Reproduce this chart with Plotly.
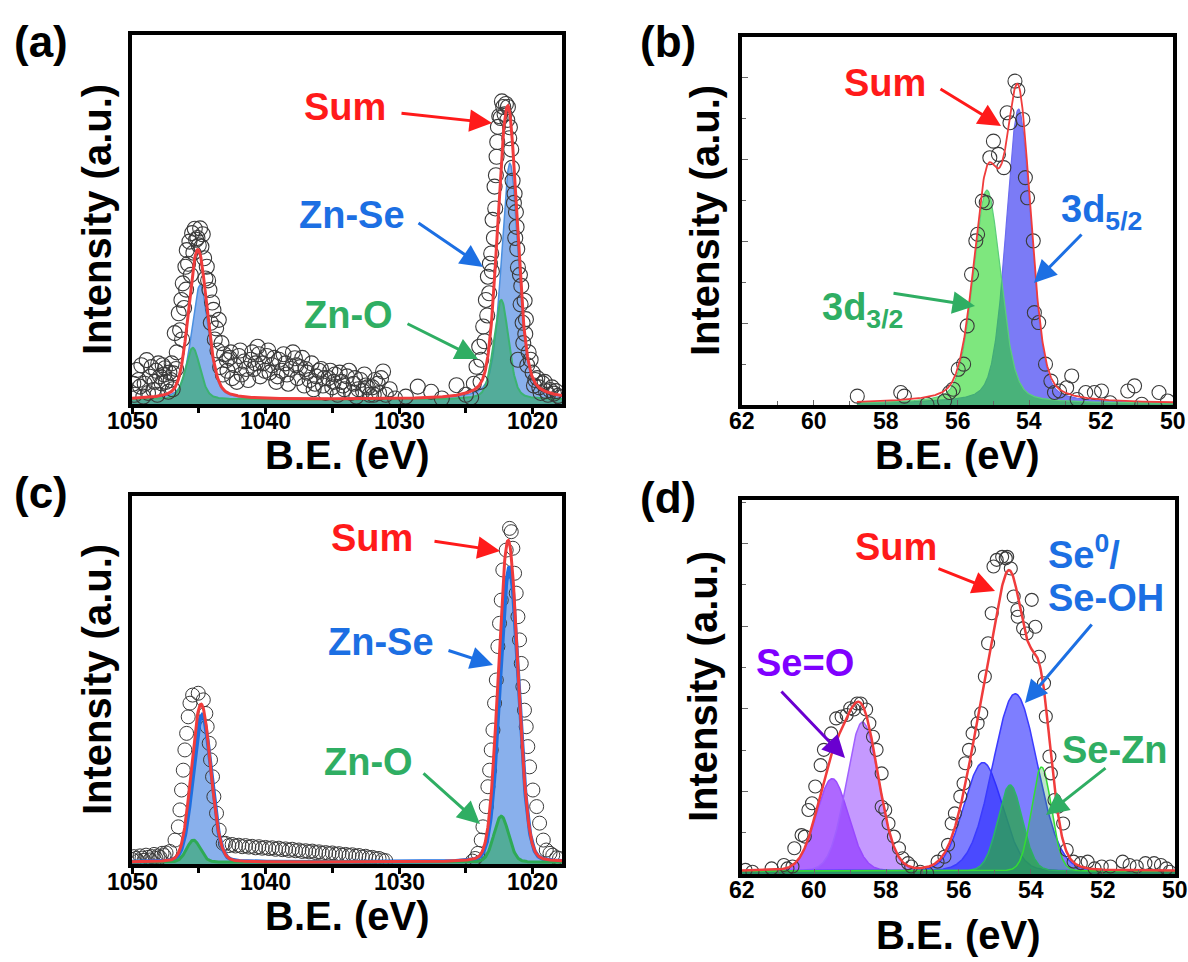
import numpy as np
import plotly.graph_objects as go

W, H = 1188, 962
FONT = "Liberation Sans, Arial, Helvetica, sans-serif"

# ---------------- panel (a): Zn 2p (sample 1) ----------------
a_be = [1049.9, 1049.65, 1049.4, 1049.15, 1048.9, 1048.65, 1048.4, 1048.2, 1048.03, 1047.78,
        1047.6, 1047.53, 1047.28, 1047.1, 1047.03, 1046.9,
        1049.8, 1049.5, 1049.3, 1049.05, 1048.8, 1048.55, 1048.3, 1048.1, 1047.9, 1047.7,
        1047.45, 1047.2, 1046.95,
        1046.8, 1046.65, 1046.5, 1046.3, 1046.2, 1046.1, 1046.0, 1045.9, 1045.7, 1045.5,
        1045.3, 1045.1, 1044.9, 1044.8, 1044.6, 1044.4, 1044.3, 1044.2, 1044.0, 1043.9,
        1043.7, 1043.5, 1043.3, 1043.1, 1042.9,
        1046.7, 1046.4, 1046.25, 1045.95, 1045.8, 1045.6, 1045.4, 1045.2, 1045.0, 1044.7,
        1044.5, 1044.1, 1043.8, 1043.6, 1043.4, 1043.2,
        1042.7, 1042.5, 1042.3, 1042.0, 1041.8, 1041.6, 1041.3, 1041.1, 1040.9, 1040.6,
        1040.4, 1040.2, 1039.9, 1039.7, 1039.5, 1039.2, 1039.0, 1038.8, 1038.5, 1038.3,
        1038.1, 1037.8, 1037.6, 1037.4, 1037.1, 1036.9, 1036.7, 1036.4, 1036.2, 1036.0,
        1035.7, 1035.5, 1035.3, 1035.0, 1034.8, 1034.6, 1034.3, 1034.1, 1033.9, 1033.6,
        1033.4, 1033.2, 1032.9, 1032.7, 1032.5, 1032.2, 1032.0, 1031.8, 1031.5, 1031.2,
        1031.0, 1030.7,
        1042.85, 1042.6, 1042.15, 1041.9, 1041.45, 1041.0, 1040.75, 1040.5, 1040.05, 1039.8,
        1039.35, 1039.1, 1038.65, 1038.4, 1037.95, 1037.7, 1037.25, 1037.0, 1036.55, 1036.3,
        1035.85, 1035.6, 1035.15, 1034.9, 1034.45, 1034.2, 1033.75, 1033.3, 1033.05, 1032.6,
        1032.35, 1031.9, 1031.6, 1031.35,
        1030.3, 1029.5, 1028.6, 1027.6, 1026.8, 1025.7, 1025.0, 1024.6,
        1024.4, 1024.2, 1024.0, 1023.85, 1023.7, 1023.5, 1023.35, 1023.2, 1023.1, 1023.0,
        1022.85, 1022.75, 1022.7, 1022.6, 1022.4, 1022.2, 1022.0, 1021.85, 1021.7, 1021.6,
        1021.5, 1021.35, 1021.25, 1021.2, 1021.15, 1021.1, 1020.85, 1020.7, 1020.6, 1020.5,
        1021.1, 1020.3, 1020.0, 1019.8, 1019.5, 1019.25, 1019.0, 1018.7, 1018.4, 1018.1,
        1023.9, 1023.6, 1023.4, 1023.25, 1023.05,
        1022.9, 1022.8, 1022.65, 1022.5, 1022.3, 1022.1, 1021.9, 1021.75, 1021.55, 1021.4,
        1021.3, 1020.95, 1020.9, 1020.75, 1020.55, 1020.4, 1020.15, 1019.9, 1019.65, 1019.4,
        1019.1, 1018.85, 1018.55, 1018.25, 1017.95]
a_int = [5.5, 9.2, 4.7, 2.0, 11.9, 7.4, 3.8, 9.0, 11.0, 5.6,
         8.0, 9.7, 3.3, 6.5, 11.0, 8.3,
         2.5, 6.5, 10.5, 5.5, 3.0, 10.0, 6.0, 2.5, 7.5, 10.5,
         6.0, 8.5, 4.0,
         19.2, 14.0, 24.6, 28.2, 32.7, 26.0, 37.2, 41.7, 44.0, 46.3,
         47.5, 45.0, 47.6, 42.6, 39.5, 37.2, 33.5, 30.9, 27.5, 25.5,
         20.5, 22.8, 16.5, 13.5, 11.9,
         9.5, 20.0, 17.5, 31.0, 38.0, 35.0, 41.0, 44.5, 43.0, 46.0,
         34.0, 22.0, 17.5, 14.5, 10.0, 8.0,
         12.5, 7.0, 10.5, 13.0, 8.0, 11.5, 6.5, 12.0, 9.5, 15.5,
         7.5, 11.0, 13.0, 8.5, 10.5, 6.0, 12.0, 9.0, 11.0, 5.5,
         9.5, 12.4, 7.0, 10.0, 5.0, 8.5, 6.5, 4.0, 7.5, 9.0,
         5.0, 3.0, 7.0, 4.5, 8.0, 2.5, 6.0, 4.0, 7.5, 3.0,
         5.5, 2.0, 6.5, 3.5, 5.0, 2.5, 4.5, 6.5, 3.0, 8.8,
         2.5, 4.0,
         9.0, 14.0, 6.0, 14.5, 9.5, 14.0, 11.0, 13.5, 9.0, 14.5,
         12.5, 7.5, 13.5, 8.0, 14.0, 10.5, 12.5, 9.5, 11.0, 5.5,
         9.5, 7.0, 9.0, 6.0, 8.5, 5.0, 9.0, 7.0, 4.0, 8.0,
         4.5, 2.5, 5.5, 7.0,
         1.5, 2.0, 4.7, 3.3, 1.5, 5.1, 2.5, 1.8,
         5.5, 10.1, 15.5, 12.0, 21.0, 28.2, 34.5, 38.0, 40.8, 49.9,
         58.9, 62.0, 67.0, 75.1, 77.5, 80.5, 81.3, 80.5, 75.0, 69.0,
         60.5, 57.0, 52.0, 48.0, 42.0, 37.0, 32.0, 16.5, 28.0, 23.0,
         12.0, 14.0, 8.5, 6.5, 4.5, 5.6, 3.5, 3.8, 2.8, 2.2,
         6.0, 17.0, 24.0, 30.0, 36.0,
         45.0, 53.0, 71.0, 78.0, 82.0, 78.5, 77.0, 72.0, 64.0, 54.5,
         45.0, 35.0, 27.0, 22.0, 19.0, 10.5, 12.0, 5.0, 7.0, 3.0,
         6.0, 2.5, 4.5, 3.5, 1.8]
a_peak_group = ["Zn-Se", "Zn-O", "Zn-Se", "Zn-O"]
a_peak_center = [1021.7, 1022.35, 1044.9, 1045.45]
a_peak_height = [64.0, 27.0, 31.0, 14.0]
a_peak_fwhm = [1.5, 1.3, 1.5, 1.3]
a_peak_lfrac = [0.4, 0.3, 0.4, 0.3]
a_background = 1.2

# ---------------- panel (b): Se 3d (sample 1) ----------------
b_be = [58.79, 57.58, 57.48, 56.85, 56.36, 56.22, 56.12, 55.98, 55.83, 55.73,
        55.61, 55.49, 55.44, 55.31, 55.20, 55.10, 55.00, 54.86, 54.71, 54.62,
        54.54, 54.40, 54.32, 54.18, 54.11, 54.05, 53.89, 53.86, 53.74, 53.55,
        53.40, 53.30, 53.16, 52.96, 52.82, 52.67, 52.43, 52.19, 51.99, 51.75,
        51.26, 51.07, 50.87, 50.39, 50.15]
b_int = [2.4, 3.4, 2.4, 0.2, 1.1, 3.4, 4.3, 9.7, 11.1, 21.5,
         35.5, 44.6, 46.4, 55.4, 55.0, 67.2, 71.7, 68.1, 64.5, 79.4,
         76.7, 88.0, 85.5, 77.6, 61.8, 56.3, 44.6, 25.1, 22.4, 11.1,
         6.5, 3.4, 3.8, 4.7, 7.9, 1.5, 3.4, 3.4, 3.8, 0.6,
         3.8, 5.2, 0.2, 3.4, 1.1]
b_peak_label = ["3d5/2", "3d3/2"]
b_peak_center = [54.30, 55.18]
b_peak_height = [80.0, 58.0]
b_peak_fwhm = [0.82, 0.9]
b_peak_lfrac = [0.3, 0.3]
b_fit_range = [58.8, 50.0]
b_background = 0.4

# ---------------- panel (c): Zn 2p (sample 2) ----------------
c_be = [1050.0, 1049.85, 1049.7, 1049.55, 1049.4, 1049.25, 1049.1, 1048.95, 1048.8, 1048.65,
        1048.5, 1048.35, 1048.2, 1048.05, 1047.9, 1047.75, 1047.6, 1047.45,
        1047.16, 1046.78, 1046.53, 1046.41, 1046.29, 1046.16, 1046.04, 1045.91, 1045.79, 1045.66,
        1045.46, 1045.04, 1044.66, 1044.47, 1044.37, 1044.22, 1044.12, 1043.97, 1043.87, 1043.67,
        1043.47, 1043.17,
        1043.0, 1042.75, 1042.5, 1042.25, 1042.0, 1041.75, 1041.5, 1041.25, 1041.0, 1040.75,
        1040.5, 1040.25, 1040.0, 1039.75, 1039.5, 1039.25, 1039.0, 1038.75, 1038.5, 1038.25,
        1038.0, 1037.75, 1037.5, 1037.25, 1037.0, 1036.75, 1036.5, 1036.25, 1036.0, 1035.75,
        1035.5, 1035.25, 1035.0, 1034.75, 1034.5, 1034.25, 1034.0, 1033.75, 1033.5, 1033.25,
        1033.0, 1032.75, 1032.5, 1032.25, 1032.0, 1031.75, 1031.5, 1031.25, 1031.0,
        1024.5, 1024.3, 1024.1, 1023.85, 1023.72, 1023.47, 1023.35, 1023.22, 1023.1, 1022.97,
        1022.85, 1022.72, 1022.6, 1022.48, 1022.35, 1022.23, 1021.98, 1021.73, 1021.6, 1021.48,
        1021.35, 1021.23, 1021.1, 1020.98, 1020.85, 1020.73, 1020.61, 1020.48, 1020.36, 1020.23,
        1019.98, 1019.7, 1019.48, 1019.2, 1018.98, 1018.7, 1018.49, 1018.2, 1017.99]
c_int = [1.2, 2.0, 1.5, 0.8, 2.2, 1.6, 1.0, 2.4, 1.8, 1.1,
         2.0, 2.6, 1.5, 2.2, 1.8, 2.9, 2.3, 3.0,
         3.4, 6.5, 10.1, 14.7, 20.1, 25.5, 31.0, 35.5, 40.0, 43.7,
         45.9, 46.4, 44.6, 40.9, 37.3, 32.8, 28.3, 23.7, 18.3, 13.8,
         9.2, 5.6,
         5.6, 5.0, 5.3, 4.9, 5.1, 4.7, 5.0, 4.6, 4.8, 4.4,
         4.7, 4.3, 4.5, 4.2, 4.4, 4.0, 4.3, 3.9, 4.1, 3.7,
         4.0, 3.6, 3.8, 3.4, 3.6, 3.3, 3.5, 3.1, 3.3, 2.9,
         3.1, 2.8, 3.0, 2.6, 2.8, 2.4, 2.6, 2.3, 2.5, 2.1,
         2.3, 1.9, 2.1, 1.7, 1.8, 1.4, 1.5, 1.1, 0.9,
         0.8, 1.5, 2.9, 6.5, 10.1, 15.6, 21.0, 25.5, 31.0, 36.4,
         43.7, 50.0, 59.1, 65.4, 71.7, 79.9, 85.3, 91.2, 90.3, 85.8,
         79.0, 73.6, 67.2, 60.9, 54.5, 48.2, 41.8, 37.3, 31.9, 26.4,
         20.1, 15.6, 11.1, 6.5, 3.8, 2.9, 2.4, 1.7, 1.5]
c_peak_group = ["Zn-Se", "Zn-O", "Zn-Se", "Zn-O"]
c_peak_center = [1021.75, 1022.35, 1044.75, 1045.4]
c_peak_height = [80.0, 12.5, 40.0, 6.0]
c_peak_fwhm = [1.65, 1.3, 1.6, 1.2]
c_peak_lfrac = [0.1, 0.1, 0.1, 0.1]
c_background = 0.5

# ---------------- panel (d): Se 3d (sample 2) ----------------
d_be = [61.90, 61.71, 61.18, 60.84, 60.74, 60.60, 60.55, 60.35, 60.26, 60.16,
        60.06, 59.97, 59.82, 59.73, 59.53, 59.39, 59.24, 59.10, 59.00, 58.90,
        58.81, 58.71, 58.56, 58.47, 58.37, 58.27, 58.13, 58.13, 58.03, 57.94,
        57.79, 57.65, 57.55, 57.40, 57.31, 57.06, 56.87, 56.58, 56.39, 56.29,
        56.19, 56.10, 55.95, 55.86, 55.81, 55.71, 55.61, 55.47, 55.37, 55.27,
        55.18, 55.08, 55.03, 54.94, 54.79, 54.69, 54.65, 54.55, 54.47, 54.37,
        54.36, 54.21, 54.11, 53.97, 53.87, 53.77, 53.63, 53.58, 53.48, 53.44,
        53.34, 53.24, 53.10, 53.00, 52.81, 52.61, 52.42, 52.23, 52.03, 51.79,
        51.45, 51.26, 51.06, 50.82, 50.58, 50.39, 50.24, 50.15]
d_int = [1.1, 0.6, 1.5, 2.4, 1.5, 2.0, 6.9, 10.4, 10.0, 17.1,
         18.9, 23.4, 29.1, 33.2, 37.6, 41.6, 42.1, 42.5, 44.3, 44.0,
         45.6, 45.6, 44.0, 40.3, 36.7, 33.2, 26.9, 18.0, 17.1, 13.5,
         10.0, 6.9, 4.2, 2.9, 2.0, 0.6, 0.2, 3.3, 4.6, 7.8,
         13.5, 16.2, 20.7, 24.2, 29.6, 33.2, 37.6, 40.3, 43.0, 52.8,
         61.7, 69.7, 82.2, 84.0, 84.8, 84.4, 84.8, 81.7, 74.2, 70.6,
         68.8, 65.7, 64.3, 73.3, 66.1, 58.1, 51.0, 42.1, 31.4, 26.9,
         19.8, 18.0, 13.5, 6.4, 3.3, 2.9, 3.3, 1.5, 2.0, 2.0,
         3.3, 2.4, 2.0, 2.9, 2.9, 2.4, 1.5, 0.6]
d_peak_group = ["Se=O", "Se=O", "Se0/Se-OH", "Se0/Se-OH", "Se-Zn", "Se-Zn"]
d_peak_center = [59.50, 58.66, 55.32, 54.43, 54.57, 53.70]
d_peak_height = [24.7, 39.8, 29.0, 47.4, 23.0, 27.8]
d_peak_fwhm = [1.05, 1.05, 1.25, 1.45, 0.8, 0.65]
d_peak_lfrac = [0.05, 0.05, 0.05, 0.05, 0.05, 0.05]
d_background = 0.8

x_ticks_zn = [1050, 1040, 1030, 1020]
x_ticks_se = [62, 60, 58, 56, 54, 52, 50]


def pvoigt(x, c, h, w, eta):
    d2 = 4.0 * (x - c) ** 2 / w ** 2
    return h * (eta / (1.0 + d2) + (1.0 - eta) * np.exp(-np.log(2.0) * d2))


def comp(x, i, centers, heights, fwhms, lfr):
    return pvoigt(x, centers[i], heights[i], fwhms[i], lfr[i])


fig = go.Figure()

# ---------- (a) ----------
xa = np.linspace(1050, 1017.8, 900)
a_sum = np.full_like(xa, a_background)
a_groups = {}
for i, g in enumerate(a_peak_group):
    y = comp(xa, i, a_peak_center, a_peak_height, a_peak_fwhm, a_peak_lfrac)
    a_groups[g] = a_groups.get(g, 0) + y
    a_sum = a_sum + y
fig.add_trace(go.Scatter(x=xa, y=a_groups["Zn-Se"] + a_background, xaxis="x", yaxis="y", mode="lines",
                         line=dict(color="#4a8fe0", width=1.5), fill="tozeroy",
                         fillcolor="rgba(74,134,226,0.65)"))
fig.add_trace(go.Scatter(x=xa, y=a_groups["Zn-O"] + a_background, xaxis="x", yaxis="y", mode="lines",
                         line=dict(color="#3cb371", width=2), fill="tozeroy",
                         fillcolor="rgba(46,170,100,0.6)"))
fig.add_trace(go.Scatter(x=a_be, y=a_int, xaxis="x", yaxis="y", mode="markers",
                         marker=dict(symbol="circle-open", size=15, color="#3a3a3a", line=dict(width=1.1))))
fig.add_trace(go.Scatter(x=xa, y=a_sum, xaxis="x", yaxis="y", mode="lines",
                         line=dict(color="#f03c3c", width=3)))

# ---------- (b) ----------
xb = np.linspace(b_fit_range[0], b_fit_range[1], 700)
b_comp = [comp(xb, i, b_peak_center, b_peak_height, b_peak_fwhm, b_peak_lfrac) for i in range(2)]
b_sum = b_background + b_comp[0] + b_comp[1]
fig.add_trace(go.Scatter(x=xb, y=b_comp[0] + b_background, xaxis="x2", yaxis="y2", mode="lines",
                         line=dict(color="#6b6bf0", width=1.2), fill="tozeroy",
                         fillcolor="rgba(35,35,240,0.6)"))
fig.add_trace(go.Scatter(x=xb, y=b_comp[1] + b_background, xaxis="x2", yaxis="y2", mode="lines",
                         line=dict(color="#5ccf7a", width=1.2), fill="tozeroy",
                         fillcolor="rgba(40,215,40,0.6)"))
fig.add_trace(go.Scatter(x=b_be, y=b_int, xaxis="x2", yaxis="y2", mode="markers",
                         marker=dict(symbol="circle-open", size=14, color="#3a3a3a", line=dict(width=1.1))))
fig.add_trace(go.Scatter(x=xb, y=b_sum, xaxis="x2", yaxis="y2", mode="lines",
                         line=dict(color="#f03c3c", width=1.8)))

# ---------- (c) ----------
xc = np.linspace(1050, 1017.8, 900)
c_sum = np.full_like(xc, c_background)
c_groups = {}
for i, g in enumerate(c_peak_group):
    y = comp(xc, i, c_peak_center, c_peak_height, c_peak_fwhm, c_peak_lfrac)
    c_groups[g] = c_groups.get(g, 0) + y
    c_sum = c_sum + y
fig.add_trace(go.Scatter(x=xc, y=c_groups["Zn-Se"] + c_background, xaxis="x3", yaxis="y3", mode="lines",
                         line=dict(width=0), fill="tozeroy", fillcolor="rgba(74,134,226,0.65)"))
fig.add_trace(go.Scatter(x=xc, y=c_groups["Zn-O"] + c_background, xaxis="x3", yaxis="y3", mode="lines",
                         line=dict(width=0), fill="tozeroy", fillcolor="rgba(46,170,100,0.6)"))
fig.add_trace(go.Scatter(x=c_be, y=c_int, xaxis="x3", yaxis="y3", mode="markers",
                         marker=dict(symbol="circle-open", size=14, color="#3a3a3a", line=dict(width=1.0))))
fig.add_trace(go.Scatter(x=xc, y=c_groups["Zn-Se"] + c_background, xaxis="x3", yaxis="y3", mode="lines",
                         line=dict(color="#1f6fe0", width=4)))
fig.add_trace(go.Scatter(x=xc, y=c_groups["Zn-O"] + c_background, xaxis="x3", yaxis="y3", mode="lines",
                         line=dict(color="#2eaa55", width=3)))
fig.add_trace(go.Scatter(x=xc, y=c_sum, xaxis="x3", yaxis="y3", mode="lines",
                         line=dict(color="#f03c3c", width=3)))

# ---------- (d) ----------
xd = np.linspace(62, 50, 900)
d_fill = ["rgba(140,40,255,0.7)", "rgba(150,70,255,0.55)", "rgba(40,40,255,0.6)",
          "rgba(40,40,255,0.6)", "rgba(40,170,70,0.75)", "rgba(40,170,70,0.3)"]
d_line = ["#9b4dff", "#a060ff", "#3b3bff", "#3b3bff", "#2db36b", "#33dd33"]
d_sum = np.full_like(xd, d_background)
for i in range(len(d_peak_center)):
    y = comp(xd, i, d_peak_center, d_peak_height, d_peak_fwhm, d_peak_lfrac)
    d_sum = d_sum + y
    fig.add_trace(go.Scatter(x=xd, y=y + d_background, xaxis="x4", yaxis="y4", mode="lines",
                             line=dict(color=d_line[i], width=1.5), fill="tozeroy",
                             fillcolor=d_fill[i]))
fig.add_trace(go.Scatter(x=d_be, y=d_int, xaxis="x4", yaxis="y4", mode="markers",
                         marker=dict(symbol="circle-open", size=13, color="#3a3a3a", line=dict(width=1.1))))
fig.add_trace(go.Scatter(x=xd, y=d_sum, xaxis="x4", yaxis="y4", mode="lines",
                         line=dict(color="#f03c3c", width=2.5)))

# ---------- axes ----------


def PX(px):
    return px / W


def PY(py):
    return 1 - py / H


def xdom(l, r):
    return [PX(l), PX(r)]


def ydom(t, b):
    return [PY(b), PY(t)]


box = dict(showline=True, mirror=True, linewidth=3.5, linecolor="black", showgrid=False,
           zeroline=False, automargin=False)

zn_x = dict(box, range=[1050, 1017.8], tickvals=x_ticks_zn, showticklabels=False,
            ticks="outside", ticklen=6, tickwidth=2.5, tickcolor="black",
            minor=dict(dtick=5, tick0=1050, ticks="outside", ticklen=5, tickwidth=2.5, tickcolor="black"))
se_x = dict(box, range=[62, 50], tickvals=x_ticks_se, showticklabels=False,
            ticks="inside", ticklen=5, tickwidth=1.2, tickcolor="#666",
            minor=dict(dtick=1, tick0=50, ticks="inside", ticklen=4, tickwidth=1.2, tickcolor="#666"))
zn_y = dict(box, range=[0, 100], showticklabels=False, ticks="")


def se_y(dt):
    return dict(box, range=[0, 100], showticklabels=False, ticks="inside", tick0=0, dtick=dt,
                ticklen=6, tickwidth=1.2, tickcolor="#666",
                minor=dict(dtick=dt / 2, tick0=0, ticks="inside", ticklen=4, tickwidth=1.2, tickcolor="#666"))


fig.update_layout(
    template="none",
    width=W, height=H, margin=dict(l=0, r=0, t=0, b=0, pad=0, autoexpand=False),
    paper_bgcolor="white", plot_bgcolor="white", showlegend=False,
    font=dict(family=FONT, color="black"),
    xaxis=dict(zn_x, domain=xdom(132, 562), anchor="y"),
    yaxis=dict(zn_y, domain=ydom(35, 404), anchor="x"),
    xaxis2=dict(se_x, domain=xdom(742, 1173), anchor="y2"),
    yaxis2=dict(se_y(22.23), domain=ydom(37, 405), anchor="x2"),
    xaxis3=dict(zn_x, domain=xdom(132, 562), anchor="y3"),
    yaxis3=dict(zn_y, domain=ydom(496, 864), anchor="x3"),
    xaxis4=dict(se_x, domain=xdom(742, 1175), anchor="y4"),
    yaxis4=dict(se_y(22.1), domain=ydom(500, 874), anchor="x4"),
)

ann = []


def text(px, py, s, size=38, color="black", angle=0, xanchor="center"):
    ann.append(dict(x=PX(px), y=PY(py), xref="paper", yref="paper", text="<b>" + s + "</b>",
                    showarrow=False, xanchor=xanchor, yanchor="middle", textangle=angle,
                    font=dict(family=FONT, size=size, color=color)))


def ticklabels(vals, xref, py):
    for v in vals:
        ann.append(dict(x=v, y=PY(py), xref=xref, yref="paper", text="<b>%d</b>" % v,
                        showarrow=False, xanchor="center", yanchor="middle",
                        font=dict(family=FONT, size=23, color="black")))


def arrow(tx, ty, hx, hy, color):
    ann.append(dict(x=PX(hx), y=PY(hy), xref="paper", yref="paper", text="",
                    showarrow=True, ax=tx - hx, ay=ty - hy, axref="pixel", ayref="pixel",
                    arrowhead=2, arrowsize=1.5, arrowwidth=3, arrowcolor=color, standoff=0))


RED, BLUE, GREEN, PURPLE = "#ff1a1a", "#1c6fe3", "#2fae63", "#7f00ff"

# tick labels
ticklabels(x_ticks_zn, "x", 421)
ticklabels(x_ticks_se, "x2", 421)
ticklabels(x_ticks_zn, "x3", 882)
ticklabels(x_ticks_se, "x4", 890)
# panel labels
text(41, 42, "(a)", 44)
text(668, 42, "(b)", 44)
text(41, 492, "(c)", 44)
text(668, 497, "(d)", 44)
# axis titles
for (px, py) in [(347, 455), (957, 455), (347, 916), (958, 935)]:
    text(px, py, "B.E. (eV)", 40)
for (px, py) in [(97, 220), (705, 221), (97, 680), (703, 687)]:
    text(px, py, "Intensity (a.u.)", 40, angle=-90)

# (a)
text(345, 107, "Sum", 38, RED); arrow(400, 113, 492, 123, RED)
text(352, 215, "Zn-Se", 38, BLUE); arrow(417, 222, 483, 267, BLUE)
text(348, 315, "Zn-O", 38, GREEN); arrow(406, 323, 478, 359, GREEN)
# (b)
text(885, 83, "Sum", 38, RED); arrow(939, 88, 1001, 126, RED)
text(1101, 212, "3d<sub>5/2</sub>", 38, BLUE); arrow(1083, 233, 1034, 283, BLUE)
text(862, 310, "3d<sub>3/2</sub>", 38, GREEN); arrow(892, 293, 975, 306, GREEN)
# (c)
text(372, 538, "Sum", 38, RED); arrow(433, 541, 500, 551, RED)
text(381, 642, "Zn-Se", 38, BLUE); arrow(447, 650, 493, 665, BLUE)
text(368, 762, "Zn-O", 38, GREEN); arrow(422, 772, 480, 824, GREEN)
# (d)
text(896, 547, "Sum", 38, RED); arrow(937, 568, 995, 591, RED)
text(1046, 552, "Se<sup>0</sup>/", 38, BLUE, xanchor="left")
text(1046, 598, "Se-OH", 38, BLUE, xanchor="left"); arrow(1093, 623, 1025, 703, BLUE)
text(805, 663, "Se=O", 38, PURPLE); arrow(780, 690, 845, 758, "#6a00d0")
text(1115, 750, "Se-Zn", 38, GREEN); arrow(1107, 767, 1046, 815, GREEN)

fig.update_layout(annotations=ann)
fig.write_html("out.html", config={"displayModeBar": False},
               post_script="document.body.style.margin='0px';document.body.style.overflow='hidden';")
